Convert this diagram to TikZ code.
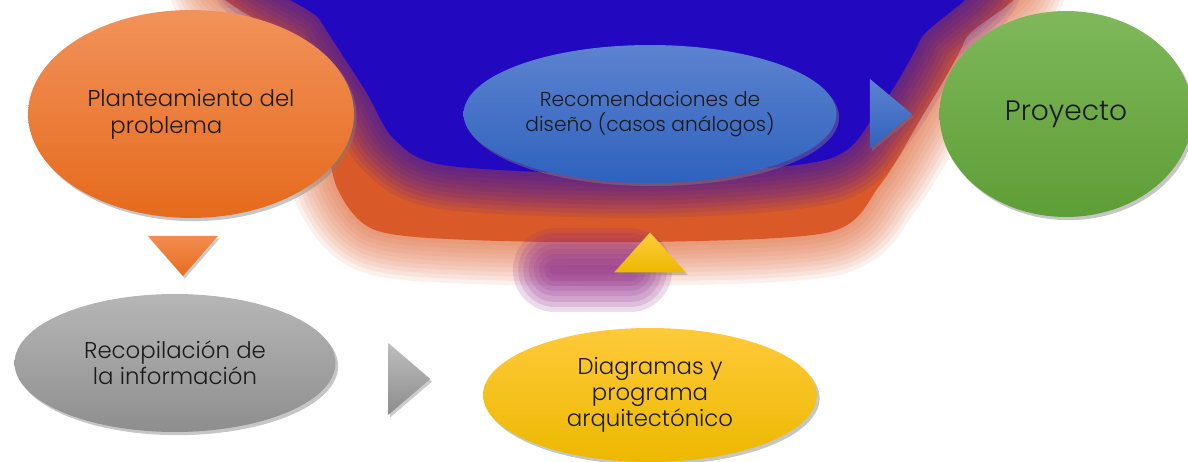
\documentclass[tikz,border=0pt]{standalone}
\usepackage{fontspec}
\setmainfont{Poppins}[UprightFont=* Light]
\usetikzlibrary{calc,positioning,shapes.geometric,shadows}
\definecolor{blobblue}{HTML}{2208BE}
\definecolor{bloborange}{HTML}{D95A28}
\definecolor{blobpurple}{HTML}{8E2A8A}
\definecolor{txt}{HTML}{1A1A1A}
\tikzset{
		basic/.style  = {ellipse, inner sep=0pt, align=center, text=txt,
			drop shadow={shadow xshift=1.5pt, shadow yshift=-1.8pt, opacity=0.45}},
		naranja/.style = {basic, top color={rgb,255:red,242;green,146;blue,90}, bottom color={rgb,255:red,229;green,106;blue,28}},
		azul/.style    = {basic, top color={rgb,255:red,93;green,131;blue,207}, bottom color={rgb,255:red,46;green,98;blue,190}},
		verde/.style   = {basic, top color={rgb,255:red,126;green,184;blue,90}, bottom color={rgb,255:red,94;green,158;blue,54}},
		gris/.style    = {basic, top color={rgb,255:red,182;green,182;blue,182}, bottom color={rgb,255:red,142;green,142;blue,142}},
		amarillo/.style= {basic, top color={rgb,255:red,255;green,202;blue,58}, bottom color={rgb,255:red,236;green,184;blue,0}},
		flecha/.style  = {drop shadow={shadow xshift=1pt, shadow yshift=-1.5pt, opacity=0.4}}
	}
% soft edged blob: colour, coordinates
\newcommand\mancha[2]{%
	\foreach \w in {50,45,...,5}
	\draw[#1, line width=\w pt, opacity=0.09, line join=round] plot[smooth cycle] coordinates {#2};
	\fill[#1] plot[smooth cycle] coordinates {#2};}
\begin{document}
\begin{tikzpicture}[x=0.02cm, y=-0.02cm]
		\useasboundingbox (0,0) rectangle (1188,462);
		% background
		\begin{scope}
			\clip (0,0) rectangle (1188,462);
			\mancha{bloborange}{(250,-30) (980,-30) (965,40) (920,120) (880,185) (830,232) (650,242) (470,240) (375,230) (338,190) (320,120) (282,40)}
			\foreach \w in {48,42,...,6}
			\draw[blobpurple, line width=\w pt, opacity=0.17, line cap=round] (555,270) -- (630,270);
			\mancha{blobblue}{(285,-40) (945,-40) (920,40) (875,115) (825,160) (650,174) (450,166) (395,140) (365,90) (320,20)}
		\end{scope}
		% nodes
		\node[naranja, minimum width=6.52cm, minimum height=4.16cm, align=left, font=\fontsize{13}{15.5}\selectfont] (plan) at (191,114) {Planteamiento del\\\hspace{1em}problema};
		\node[gris, minimum width=6.42cm, minimum height=2.76cm, font=\fontsize{13}{15}\selectfont] (recop) at (175,363) {Recopilación de\\la información};
		\node[amarillo, minimum width=6.68cm, minimum height=2.68cm, font=\fontsize{13}{15}\selectfont] (diag) at (650,395) {Diagramas y\\programa\\arquitectónico};
		\node[azul, minimum width=7.46cm, minimum height=2.76cm, font=\fontsize{11.5}{14}\selectfont] (recom) at (650,114) {Recomendaciones de\\diseño (casos análogos)};
		\node[verde, minimum width=5.06cm, minimum height=4.12cm, font=\fontsize{16}{19}\selectfont] (proy) at (1066,114) {Proyecto};
		% arrows between nodes
		\coordinate (m1) at ($(plan.south)!0.5!(recop.north)$);
		\coordinate (m2) at ($(recop.east)!0.5!(diag.west)$);
		\coordinate (m3) at ($(diag.north)!0.5!(recom.south)$);
		\coordinate (m4) at ($(recom.east)!0.5!(proy.west)$);
		\shade[flecha, top color={rgb,255:red,243;green,140;blue,80}, bottom color={rgb,255:red,230;green,110;blue,30}]
			($(m1)+(-35,-20)$) -- ($(m1)+(35,-20)$) -- ($(m1)+(0,20)$) -- cycle;
		\shade[flecha, top color={rgb,255:red,190;green,190;blue,190}, bottom color={rgb,255:red,140;green,140;blue,140}]
			($(m2)+(-21,-36)$) -- ($(m2)+(21,0)$) -- ($(m2)+(-21,36)$) -- cycle;
		\shade[flecha, top color={rgb,255:red,255;green,205;blue,60}, bottom color={rgb,255:red,236;green,184;blue,0}]
			($(m3)+(-36,17)$) -- ($(m3)+(36,17)$) -- ($(m3)+(0,-23)$) -- cycle;
		\shade[flecha, top color={rgb,255:red,93;green,131;blue,207}, bottom color={rgb,255:red,46;green,98;blue,190}]
			($(m4)+(-18,-35)$) -- ($(m4)+(24,0)$) -- ($(m4)+(-18,35)$) -- cycle;
	\end{tikzpicture}
\end{document}
